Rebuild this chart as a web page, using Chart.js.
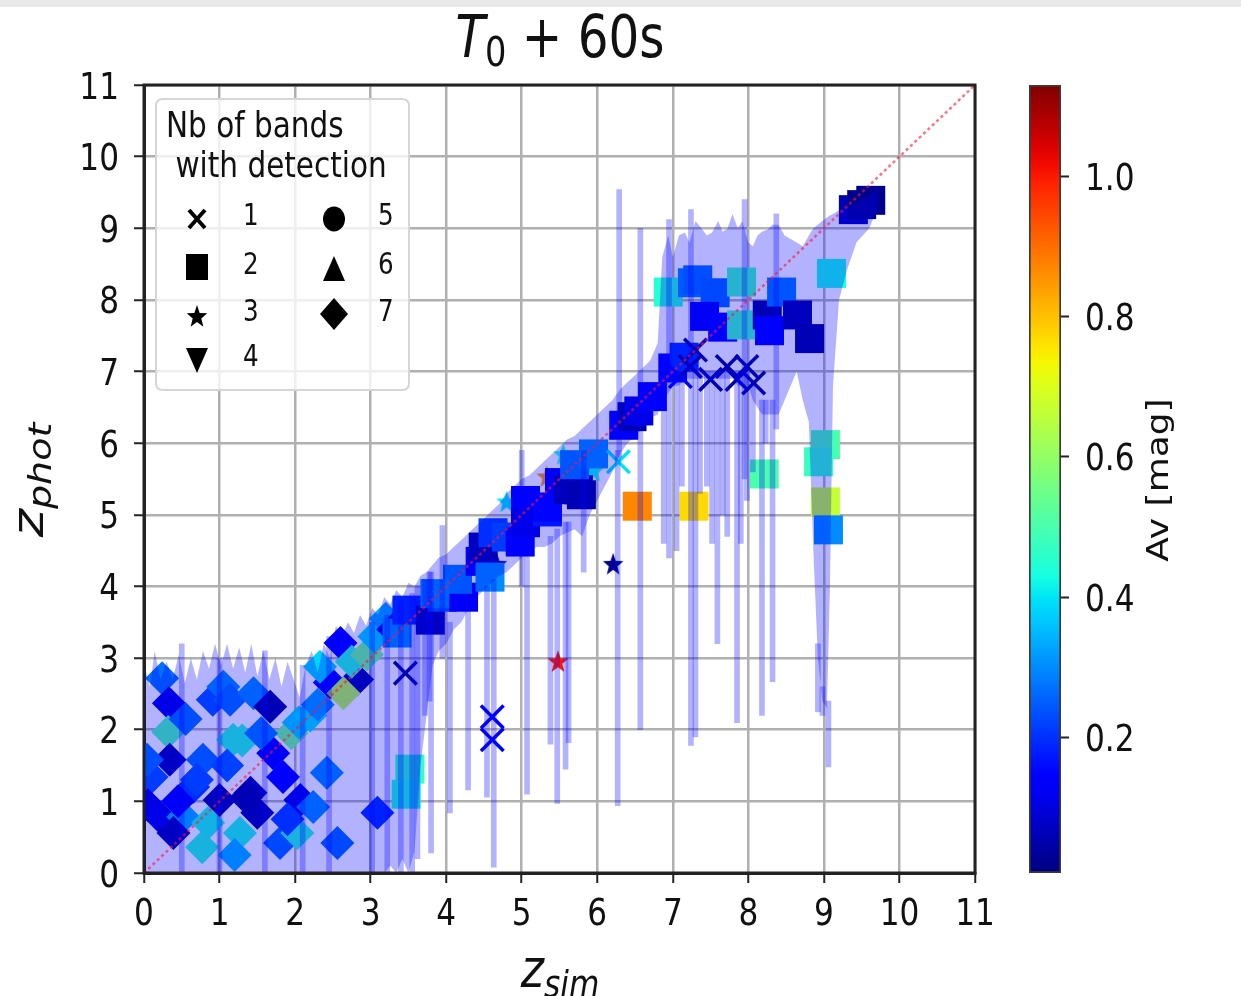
<!DOCTYPE html>
<html><head><meta charset="utf-8">
<script src="https://cdn.jsdelivr.net/npm/chart.js@4.4.1/dist/chart.umd.min.js"></script>
<style>
html,body{margin:0;padding:0;background:#fff;}
#wrap{position:relative;width:1241px;height:996px;overflow:hidden;background:#fff;}
#topbar{position:absolute;left:0;top:0;width:1241px;height:7px;background:#e9e9e9;}
#main{position:absolute;left:0;top:0;}
#cbar{position:absolute;left:990px;top:0;}
</style></head><body>
<div id="wrap"><canvas id="main" width="1000" height="996"></canvas><canvas id="cbar" width="251" height="996"></canvas><div id="topbar"></div></div>
<script>
// ---------------- DATA ----------------
const xTicks = [0,1,2,3,4,5,6,7,8,9,10,11];
const yTicks = [0,1,2,3,4,5,6,7,8,9,10,11];
const cbTicks = [0.2,0.4,0.6,0.8,1.0];
const AV_MIN = 0.006, AV_MAX = 1.131;

// 2 bands (squares)
const sqX  = [9.39,9.62,9.50,6.94,7.26,7.33,7.56,7.42,7.66,7.91,7.91,8.25,8.44,8.28,8.65,8.81,9.10,8.21,9.02,8.93,9.02,9.06,6.53,7.28,3.52,3.47,
              3.35,3.48,3.79,3.95,4.23,4.15,4.45,4.49,4.58,4.62,4.80,4.98,5.05,5.05,5.34,5.34,5.50,5.62,5.75,5.79,5.70,5.95,6.35,6.46,6.55,6.73,7.00,7.15,3.85];
const sqY  = [9.26,9.39,9.33,8.11,8.24,8.28,8.10,7.77,7.62,8.25,7.65,7.79,8.11,7.57,7.79,7.46,8.37,5.57,5.98,5.74,5.18,4.79,5.12,5.12,1.45,1.10,
              3.35,3.67,3.53,3.85,3.85,4.10,4.35,4.55,4.13,4.75,4.69,4.62,5.20,4.89,5.04,5.11,5.45,5.35,5.35,5.28,5.70,5.85,6.25,6.37,6.45,6.65,7.05,7.20,3.90];
const sqAv = [0.06,0.02,0.02,0.45,0.29,0.27,0.26,0.12,0.13,0.48,0.48,0.03,0.28,0.13,0.04,0.03,0.43,0.50,0.50,0.47,0.67,0.30,0.87,0.77,0.46,0.44,
              0.30,0.20,0.04,0.25,0.12,0.28,0.12,0.04,0.30,0.22,0.24,0.13,0.13,0.10,0.18,0.15,0.12,0.04,0.04,0.03,0.28,0.30,0.13,0.03,0.10,0.13,0.15,0.20,0.30];

// 7 bands (diamonds)
const dmX  = [0.24,0.33,0.32,0.34,0.10,0.04,0.78,0.65,0.70,0.21,0.52,0.39,0.77,0.85,0.05,0.91,1.05,1.14,1.18,1.30,1.45,1.67,1.71,1.41,1.50,1.35,1.00,1.84,1.27,1.80,2.03,2.07,2.24,2.42,2.56,3.09,2.60,2.46,2.82,2.64,2.33,1.95,2.05,2.20,2.30,2.75,2.95,3.05,3.20,3.30,0.55,1.10,0.45,1.20,1.90,1.55];
const dmY  = [2.72,2.37,1.97,1.58,1.34,1.58,1.58,1.20,1.30,0.78,0.78,0.56,0.36,0.70,0.95,2.42,2.60,2.42,1.86,1.85,2.51,2.32,1.67,1.12,0.84,1.05,1.02,1.34,0.56,0.42,0.56,1.02,0.92,1.40,0.42,0.84,3.21,2.66,2.70,2.51,2.88,1.95,2.10,2.20,2.35,2.95,3.05,3.30,3.55,3.40,2.15,1.50,1.00,0.25,0.75,1.95];
const dmAv = [0.27,0.10,0.50,0.05,0.24,0.27,0.27,0.22,0.24,0.10,0.34,0.05,0.45,0.44,0.10,0.24,0.30,0.27,0.45,0.45,0.30,0.03,0.12,0.05,0.04,0.03,0.04,0.13,0.44,0.26,0.45,0.10,0.30,0.30,0.26,0.20,0.13,0.12,0.04,0.65,0.38,0.55,0.38,0.40,0.32,0.45,0.55,0.38,0.33,0.10,0.27,0.25,0.12,0.35,0.22,0.28];

// 1 band (crosses)
const crX  = [3.46,4.61,4.61,6.28,7.10,7.23,7.30,7.50,7.72,7.85,7.98,8.07];
const crY  = [2.79,2.18,1.86,5.74,6.93,7.07,7.30,6.89,7.07,6.89,7.07,6.84];
const crAv = [0.02,0.14,0.14,0.40,0.15,0.03,0.03,0.03,0.03,0.03,0.03,0.03];

// 3 bands (stars)
const stX  = [6.21,5.48,5.33,4.80,5.55,5.95,4.67];
const stY  = [4.33,2.97,5.55,5.20,5.86,5.63,4.33];
const stAv = [0.02,1.00,0.85,0.40,0.45,0.42,0.05];

// uncertainty envelope (sorted z_sim, upper / lower z_phot)
const bandX  = [0.00,0.08,0.14,0.22,0.30,0.38,0.46,0.54,0.62,0.70,0.78,0.86,0.94,1.02,1.10,1.18,1.26,1.34,1.42,1.50,
                1.58,1.66,1.74,1.82,1.90,1.98,2.06,2.14,2.22,2.30,2.38,2.46,2.54,2.62,2.70,2.78,2.86,2.94,3.02,3.10,
                3.18,3.26,3.34,3.42,3.50,3.58,3.66,3.74,3.82,3.90,4.00,4.10,4.20,4.30,4.40,4.50,4.60,4.70,4.80,4.90,
                5.00,5.10,5.20,5.30,5.40,5.50,5.60,5.70,5.80,5.90,6.00,6.10,6.20,6.30,6.40,6.50,6.60,6.70,6.80,6.86,
                6.94,7.00,7.08,7.16,7.22,7.30,7.38,7.45,7.52,7.60,7.66,7.72,7.79,7.86,7.92,8.00,8.06,8.12,8.18,8.25,
                8.32,8.40,8.48,8.56,8.64,8.72,8.80,8.86,8.92,8.98,9.04,9.08,9.12,9.20,9.30,9.43,9.60,9.72];
const bandHi = [2.90,2.60,3.10,2.70,2.95,2.70,3.05,2.65,3.00,2.70,3.10,2.85,3.20,2.90,3.20,2.85,3.15,2.80,3.20,2.75,
                3.10,2.70,3.00,2.60,2.95,2.70,2.45,2.90,3.10,2.80,3.20,3.00,3.45,3.30,3.50,3.35,3.60,3.45,3.70,3.60,
                3.85,3.75,3.95,3.85,4.05,4.00,4.15,4.20,4.30,4.40,4.45,4.55,4.65,4.75,4.85,4.95,5.05,5.15,5.30,5.40,
                5.50,5.55,5.65,5.75,5.85,5.95,6.05,6.10,6.20,6.30,6.40,6.50,6.60,6.75,6.85,6.95,7.05,7.15,7.40,8.60,
                8.90,8.60,8.90,8.94,8.80,9.10,9.00,8.90,8.94,9.10,8.95,8.99,9.20,9.00,9.10,8.80,8.75,8.90,8.95,8.98,
                9.05,9.05,8.90,8.85,8.80,8.75,8.90,9.00,9.05,9.10,9.15,9.18,9.20,9.25,9.30,9.35,9.45,9.55];
const bandLo = [0.00,0.00,0.00,0.00,0.00,0.00,0.00,0.00,0.00,0.00,0.00,0.00,0.00,0.00,0.00,0.00,0.00,0.00,0.00,0.00,
                0.00,0.00,0.00,0.00,0.00,0.00,0.00,0.00,0.00,0.00,0.00,0.00,0.00,0.00,0.00,0.00,0.00,0.00,0.00,0.00,
                0.00,0.10,0.00,0.20,0.00,0.30,1.50,2.20,2.90,3.10,3.20,3.40,3.50,3.70,3.85,3.95,4.05,4.15,4.20,4.30,
                4.40,4.50,4.55,4.55,4.60,4.70,4.75,4.80,4.70,5.00,5.20,5.40,5.60,5.85,6.00,6.10,6.20,6.35,6.40,6.60,
                6.70,6.80,6.80,6.90,6.90,6.90,6.90,6.90,6.90,6.90,6.90,6.90,6.90,6.80,6.80,6.80,6.60,6.50,6.40,6.40,
                6.40,6.40,6.60,6.80,7.00,6.60,6.30,4.50,3.00,2.40,2.30,4.00,6.80,8.00,8.40,8.80,9.00,9.30];

// narrow individual error spikes (z_sim, lower, upper)
const spkX  = [0.50,1.00,1.60,2.10,2.45,3.02,3.22,3.40,3.55,3.62,3.72,3.78,3.80,3.95,4.05,4.29,4.54,4.63,5.00,5.07,
               5.38,5.47,5.58,5.62,5.82,6.27,6.29,6.57,6.88,6.95,7.05,7.12,7.24,7.30,7.36,7.45,7.52,7.59,7.66,7.72,
               7.85,7.90,7.95,7.98,8.06,8.18,8.23,8.32,8.37,8.92,8.98,9.06];
const spkLo = [0.00,0.00,0.00,0.00,0.00,0.00,0.00,0.00,0.00,0.20,2.20,2.40,0.28,3.00,0.84,1.16,1.06,0.08,4.00,1.10,
               1.80,0.97,1.45,1.82,4.20,0.94,5.80,2.00,4.60,4.40,4.50,5.40,1.78,1.90,5.30,5.40,4.60,3.20,5.00,4.70,
               2.10,4.60,5.50,5.20,5.60,2.20,6.00,2.67,6.20,2.25,2.20,1.48];
const spkHi = [3.20,3.00,3.10,2.90,3.30,3.50,3.60,3.80,3.90,4.00,4.10,4.20,4.20,4.85,3.50,3.80,4.00,4.10,5.90,4.60,
               4.70,4.80,4.90,4.90,5.90,5.90,9.54,9.00,7.00,9.12,7.00,7.00,9.26,7.00,7.00,7.00,7.00,7.00,7.00,7.00,
               7.00,7.00,9.40,7.00,6.80,6.60,6.60,6.60,9.20,3.20,2.60,2.40];

// reference line z_phot = z_sim
const diagX = [0, 11];

// ---------------- HELPERS ----------------
function jet(t){
  t = Math.max(0, Math.min(1, t));
  const f = pts => { for (let i=0;i<pts.length-1;i++){ const [x0,y0]=pts[i],[x1,y1]=pts[i+1]; if (t<=x1) return y0+(y1-y0)*(t-x0)/(x1-x0);} return pts[pts.length-1][1]; };
  const r = f([[0,0],[0.35,0],[0.66,1],[0.89,1],[1,0.5]]);
  const g = f([[0,0],[0.125,0],[0.375,1],[0.64,1],[0.91,0],[1,0]]);
  const b = f([[0,0.5],[0.11,1],[0.34,1],[0.65,0],[1,0]]);
  return `rgb(${Math.round(r*255)},${Math.round(g*255)},${Math.round(b*255)})`;
}
const avColor = av => jet((av-AV_MIN)/(AV_MAX-AV_MIN));
const pts = (xs, ys) => xs.map((x,i)=>({x, y: ys[i]}));

const starCache = {};
function starImg(color, R){
  const key = color+'_'+R;
  if (starCache[key]) return starCache[key];
  const c = document.createElement('canvas');
  const s = Math.ceil(2*R+4); c.width = s; c.height = s;
  const g = c.getContext('2d');
  g.fillStyle = color; g.beginPath();
  for (let i=0;i<10;i++){ const a=-Math.PI/2+i*Math.PI/5; const rr=(i%2)?R*0.42:R; g.lineTo(s/2+rr*Math.cos(a)*0.9, s/2+2+rr*Math.sin(a)); }
  g.closePath(); g.fill();
  starCache[key] = c; return c;
}

const SX = 0.82;
const FAM = '"DejaVu Sans", "Liberation Sans", sans-serif';
function mtext(ctx, parts, x, y, align, rot){
  ctx.save();
  ctx.translate(x, y);
  if (rot) { ctx.rotate(rot); ctx.scale(1, SX); } else { ctx.scale(SX, 1); }
  ctx.fillStyle = '#111'; ctx.textBaseline = 'alphabetic'; ctx.textAlign = 'left';
  let total = 0;
  const ws = parts.map(p => { ctx.font = (p.italic?'italic ':'') + p.size + 'px ' + FAM; const w = ctx.measureText(p.t).width; total += w; return w; });
  let cx = align==='center' ? -total/2 : (align==='right' ? -total : 0);
  parts.forEach((p,i) => { ctx.font = (p.italic?'italic ':'') + p.size + 'px ' + FAM; ctx.fillText(p.t, cx, p.dy||0); cx += ws[i]; });
  ctx.restore();
}

// ---------------- MAIN CHART ----------------
const textPlugin = {
  id: 'texts',
  afterDatasetsDraw(chart){
    const ctx = chart.ctx, a = chart.chartArea;
    ctx.save(); ctx.strokeStyle = '#222'; ctx.lineWidth = 3;
    ctx.strokeRect(a.left, a.top, a.right-a.left, a.bottom-a.top); ctx.restore();
  },
  afterDraw(chart){
    const ctx = chart.ctx, a = chart.chartArea;
    const xs = chart.scales.x, ys = chart.scales.y;
    xs.ticks.forEach(t => mtext(ctx, [{t:String(t.value), size:38}], xs.getPixelForValue(t.value), a.bottom+52, 'center'));
    ys.ticks.forEach(t => mtext(ctx, [{t:String(t.value), size:38}], a.left-25, ys.getPixelForValue(t.value)+13.5, 'right'));
    mtext(ctx, [{t:'T', size:59, italic:true},{t:'0', size:41, dy:9},{t:' + 60s', size:59}], 560, 57, 'center');
    mtext(ctx, [{t:'z', size:54, italic:true},{t:'sim', size:38, italic:true, dy:10}], 560, 987, 'center');
    mtext(ctx, [{t:'z', size:54, italic:true},{t:'phot', size:38, italic:true, dy:10}], 43, 480, 'center', -Math.PI/2);
    // legend
    ctx.save();
    const bx=156, by=99, bw=253, bh=291, r=7;
    ctx.beginPath();
    ctx.moveTo(bx+r,by); ctx.lineTo(bx+bw-r,by); ctx.quadraticCurveTo(bx+bw,by,bx+bw,by+r);
    ctx.lineTo(bx+bw,by+bh-r); ctx.quadraticCurveTo(bx+bw,by+bh,bx+bw-r,by+bh);
    ctx.lineTo(bx+r,by+bh); ctx.quadraticCurveTo(bx,by+bh,bx,by+bh-r);
    ctx.lineTo(bx,by+r); ctx.quadraticCurveTo(bx,by,bx+r,by); ctx.closePath();
    ctx.fillStyle = 'rgba(255,255,255,0.8)'; ctx.fill();
    ctx.strokeStyle = '#d6d6d6'; ctx.lineWidth = 2; ctx.stroke();
    ctx.restore();
    mtext(ctx, [{t:'Nb of bands', size:36}], 166, 137, 'left');
    mtext(ctx, [{t:' with detection', size:36}], 166, 177, 'left');
    const rows = [[197,219,'x','1',243,225],[197,267,'s','2',243,274],[197,315,'*','3',243,321],[197,360,'v','4',243,366],
                  [334,219,'o','5',378,225],[334,269,'^','6',378,274],[334,314,'D','7',378,321]];
    rows.forEach(([mx,my,m,lab,lx,ly]) => {
      ctx.save(); ctx.fillStyle = '#000'; ctx.strokeStyle = '#000';
      ctx.beginPath();
      if (m==='x'){ ctx.lineWidth=4; ctx.moveTo(mx-8,my-9); ctx.lineTo(mx+8,my+9); ctx.moveTo(mx+8,my-9); ctx.lineTo(mx-8,my+9); ctx.stroke(); }
      else if (m==='s'){ ctx.fillRect(mx-11,my-13,22,26); }
      else if (m==='*'){ ctx.drawImage(starImg('#000',12), mx-14, my-14); }
      else if (m==='v'){ ctx.moveTo(mx-11,my-12); ctx.lineTo(mx+11,my-12); ctx.lineTo(mx,my+13); ctx.closePath(); ctx.fill(); }
      else if (m==='o'){ ctx.ellipse(mx,my,11,12.5,0,0,Math.PI*2); ctx.fill(); }
      else if (m==='^'){ ctx.moveTo(mx-11,my+12); ctx.lineTo(mx+11,my+12); ctx.lineTo(mx,my-13); ctx.closePath(); ctx.fill(); }
      else if (m==='D'){ ctx.moveTo(mx,my-16); ctx.lineTo(mx+14,my); ctx.lineTo(mx,my+16); ctx.lineTo(mx-14,my); ctx.closePath(); ctx.fill(); }
      ctx.restore();
      mtext(ctx, [{t:lab, size:30}], lx, ly, 'left');
    });
  }
};

const gridX = {color:'#b0b0b0', lineWidth:2.5, tickColor:'#222', tickLength:10, tickWidth:2, offset:false};
const gridY = {color:'#b0b0b0', lineWidth:2.5, tickColor:'#222', tickLength:10, tickWidth:2, offset:false};
const BAND = 'rgba(0,0,255,0.3)';

new Chart(document.getElementById('main'), {
  type: 'scatter',
  data: {
    datasets: [
      { type:'line', data: pts(diagX, diagX), borderColor:'rgba(255,20,50,0.6)', borderWidth:2.5, borderDash:[3,3], pointRadius:0, fill:false, order:0 },
      { type:'line', data: pts(bandX, bandHi), borderColor:'rgba(0,0,0,0)', borderWidth:0, pointRadius:0, fill:false, tension:0, order:1 },
      { type:'line', data: pts(bandX, bandLo), borderColor:'rgba(0,0,0,0)', borderWidth:0, pointRadius:0, fill:'-1', backgroundColor:BAND, tension:0, order:1 },
      { type:'bar', data: spkX.map((x,i)=>({x, y:[spkLo[i], spkHi[i]]})), backgroundColor:BAND, borderWidth:0, barThickness:5, order:1 },
      { data: pts(crX, crY), pointStyle:'crossRot', pointRadius:16, pointBorderWidth:3.5, pointBorderColor: crAv.map(avColor), pointBackgroundColor: crAv.map(avColor), order:2 },
      { data: pts(sqX, sqY), pointStyle:'rect', pointRadius:20.5, pointBorderWidth:0, pointBackgroundColor: sqAv.map(avColor), order:3 },
      { data: pts(stX, stY), pointStyle: ctx => starImg(avColor(stAv[ctx.dataIndex] ?? 0.1), 12), pointRadius:12, order:4 },
      { data: pts(dmX, dmY), pointStyle:'rectRot', pointRadius:17, pointBorderWidth:0, pointBackgroundColor: dmAv.map(avColor), order:5 }
    ]
  },
  options: {
    responsive:false, animation:false, events:[],
    layout:{padding:{left:0, top:85, right:25, bottom:0}},
    plugins:{legend:{display:false}, tooltip:{enabled:false}, title:{display:false}},
    scales:{
      x:{type:'linear', min:0, max:11, offset:false, grid:gridX, border:{display:true, color:'#222', width:3},
         ticks:{display:false}, afterBuildTicks: s => { s.ticks = xTicks.map(v=>({value:v})); }, afterFit: s => { s.height = 123; }},
      y:{type:'linear', min:0, max:11, offset:false, grid:gridY, border:{display:true, color:'#222', width:3},
         ticks:{display:false}, afterBuildTicks: s => { s.ticks = yTicks.map(v=>({value:v})); }, afterFit: s => { s.width = 144; }}
    }
  },
  plugins:[textPlugin]
});

// ---------------- COLORBAR ----------------
const cbText = {
  id:'cbText',
  afterDraw(chart){
    const ctx = chart.ctx, a = chart.chartArea, ys = chart.scales.y;
    ys.ticks.forEach(t => mtext(ctx, [{t:t.value.toFixed(1), size:38}], a.right+24, ys.getPixelForValue(t.value)+13.5, 'left'));
    mtext(ctx, [{t:'Av [mag]', size:36}], 178, 480, 'center', -Math.PI/2);
  }
};
new Chart(document.getElementById('cbar'), {
  type:'bar',
  data:{ labels:[''], datasets:[{ data:[[AV_MIN, AV_MAX]],
    backgroundColor: c => { const a = c.chart.chartArea; if (!a) return '#00f';
      const g = c.chart.ctx.createLinearGradient(0, a.bottom, 0, a.top);
      for (let i=0;i<=40;i++) g.addColorStop(i/40, jet(i/40)); return g; },
    borderColor:'#3a3a3a', borderWidth:2, borderSkipped:false, barPercentage:1, categoryPercentage:1 }]},
  options:{
    responsive:false, animation:false, events:[],
    layout:{padding:{left:39, top:85, bottom:123, right:0}},
    plugins:{legend:{display:false}, tooltip:{enabled:false}},
    scales:{
      x:{display:false},
      y:{position:'right', min:AV_MIN, max:AV_MAX,
         afterBuildTicks: s => { s.ticks = cbTicks.map(v=>({value:v})); },
         grid:{drawOnChartArea:false, tickLength:8, tickColor:'#222', tickWidth:2},
         border:{display:false}, ticks:{display:false}, afterFit: s => { s.width = 180; }}
    }
  },
  plugins:[cbText]
});
</script>
</body></html>
